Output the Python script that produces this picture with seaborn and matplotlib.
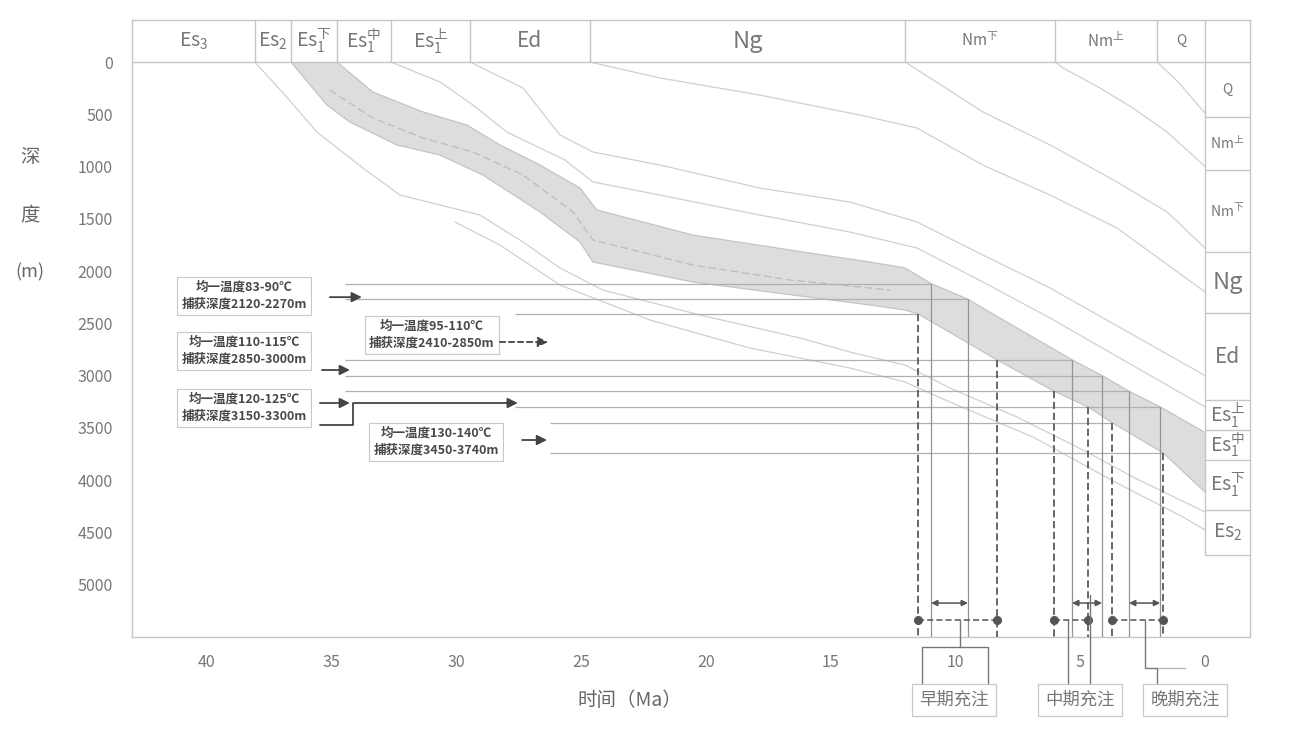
import numpy as np
import pandas as pd
import matplotlib
matplotlib.use('Agg')
import matplotlib.pyplot as plt
import seaborn as sns

# ---- stratigraphy (ages in Ma, depths in m) ----
strata_names = [r'Es$_3$', r'Es$_2$', r'Es$_1^{\mathrm{下}}$', r'Es$_1^{\mathrm{中}}$',
                r'Es$_1^{\mathrm{上}}$', 'Ed', 'Ng', r'Nm$^{\mathrm{下}}$', r'Nm$^{\mathrm{上}}$', 'Q']
strata_ages = [43.0, 38.08, 36.63, 34.79, 32.63, 29.46, 24.65, 12.02, 6.01, 1.92, 0.0]
strata_fs = [14, 14, 14, 14, 14, 15, 17, 11, 11, 10]

col_names = ['Q', r'Nm$^{\mathrm{上}}$', r'Nm$^{\mathrm{下}}$', 'Ng', 'Ed',
             r'Es$_1^{\mathrm{上}}$', r'Es$_1^{\mathrm{中}}$', r'Es$_1^{\mathrm{下}}$', r'Es$_2$']
col_depths = [0, 526, 1033, 1818, 2402, 3234, 3522, 3809, 4287, 4718]
col_fs = [10, 10, 10, 17, 15, 14, 14, 14, 14]

# ---- burial curves of formation bases ----
q_age = [1.92, 1.08, 0.0]
q_depth = [0, 191, 490]
nmu_age = [6.01, 5.69, 4.21, 2.89, 1.52, 0.0]
nmu_depth = [0, 57, 249, 440, 670, 1000]
nml_age = [12.02, 8.90, 6.21, 3.53, 1.52, 0.0]
nml_depth = [0, 478, 794, 1148, 1435, 1780]
ng_age = [24.65, 21.84, 17.84, 13.83, 11.54, 8.90, 6.21, 3.53, 0.0]
ng_depth = [0, 153, 316, 507, 632, 986, 1273, 1589, 2200]
ed_age = [29.46, 27.33, 25.85, 24.53, 21.84, 17.84, 14.23, 11.54, 8.90, 6.21, 0.0]
ed_depth = [0, 249, 699, 861, 986, 1206, 1340, 1531, 1847, 2163, 3000]
es1u_age = [32.63, 30.66, 29.34, 27.98, 25.65, 24.53, 21.84, 17.84, 14.23, 11.54, 8.90, 6.21, 0.0]
es1u_depth = [0, 191, 411, 670, 938, 1148, 1273, 1464, 1627, 1780, 2105, 2450, 3300]
es2_age = [38.08, 36.87, 35.59, 33.75, 32.26, 30.66, 29.06, 27.33, 25.85, 24.13, 20.24,
           16.23, 14.23, 12.02, 10.22, 7.54, 4.89, 2.89, 0.0]
es2_depth = [0, 316, 670, 1014, 1273, 1368, 1464, 1722, 1971, 2182, 2421,
             2641, 2775, 2900, 3120, 3397, 3713, 3971, 4306]
es3_age = [30.06, 28.26, 25.85, 22.24, 18.24, 14.23, 12.02, 10.22, 6.89, 3.53, 0.88, 0.0]
es3_depth = [1531, 1751, 2134, 2469, 2737, 2928, 3062, 3254, 3589, 4029, 4354, 4478]
mid_age = [35.07, 33.35, 31.34, 29.34, 27.33, 25.33, 24.53, 20.52, 16.63, 12.63]
mid_depth = [268, 536, 727, 861, 1081, 1435, 1703, 1943, 2086, 2182]

# reservoir band (Es1 lower section): top and base
top_age = [34.79, 33.35, 31.34, 29.58, 28.26, 26.65, 25.05, 24.37, 20.52, 16.63, 13.43,
           12.02, 10.98, 9.50, 8.22, 5.33, 4.13, 3.05, 1.80, 0.0]
top_depth = [0, 287, 478, 603, 794, 986, 1206, 1416, 1656, 1799, 1914,
             1971, 2120, 2270, 2450, 2850, 3000, 3150, 3300, 3545]
base_age = [36.63, 35.19, 34.27, 32.38, 30.66, 28.94, 26.65, 25.05, 24.53, 20.52, 16.51,
            13.43, 12.02, 11.50, 8.34, 6.05, 4.69, 3.73, 1.68, 0.0]
base_depth = [0, 411, 574, 794, 890, 1081, 1435, 1722, 1914, 2105, 2230,
              2325, 2373, 2410, 2850, 3150, 3300, 3450, 3740, 4115]

# ---- fluid inclusion trapping depths ----
trap_depths = [2120, 2270, 2410, 2850, 3000, 3150, 3300, 3450, 3740]
trap_start = [34.47, 34.47, 27.66, 34.47, 34.47, 34.47, 27.66, 26.25, 26.25]
top_cut = [2120, 2270, 2850, 3000, 3150, 3300]      # solid drop lines
base_cut = [2410, 2850, 3150, 3300, 3450, 3740]     # dashed drop lines
box_texts = ['均一温度83-90℃\n捕获深度2120-2270m',
             '均一温度95-110℃\n捕获深度2410-2850m',
             '均一温度110-115℃\n捕获深度2850-3000m',
             '均一温度120-125℃\n捕获深度3150-3300m',
             '均一温度130-140℃\n捕获深度3450-3740m']
charge_names = ['早期充注', '中期充注', '晚期充注']

sns.set_theme(style='white')
plt.rcParams['font.family'] = ['Noto Sans CJK SC', 'DejaVu Sans']
plt.rcParams['mathtext.fontset'] = 'custom'
plt.rcParams['mathtext.rm'] = 'Noto Sans CJK SC'
plt.rcParams['mathtext.it'] = 'Noto Sans CJK SC'
plt.rcParams['mathtext.bf'] = 'Noto Sans CJK SC:bold'

fig = plt.figure(figsize=(13.02, 7.44), dpi=100)
ax = fig.add_axes([132 / 1302, 107 / 744, 1118 / 1302, 617 / 744])
XL, XR, YB, YT = 43.0, -1.8, 5502, -402

grey_txt = '#777777'
line_c = '#d0d0d0'

# band
poly_x = top_age + base_age[::-1]
poly_y = top_depth + base_depth[::-1]
ax.fill(poly_x, poly_y, color='#dddddd', lw=0, zorder=1)
ax.plot(top_age, top_depth, color='#c4c4c4', lw=0.9, zorder=2)
ax.plot(base_age, base_depth, color='#c4c4c4', lw=0.9, zorder=2)
ax.plot(mid_age, mid_depth, color='#bcbcbc', lw=0.9, ls=(0, (6, 3)), zorder=2)

# burial curves
curves = {'Q': (q_age, q_depth), 'Nm_u': (nmu_age, nmu_depth), 'Nm_l': (nml_age, nml_depth),
          'Ng': (ng_age, ng_depth), 'Ed': (ed_age, ed_depth), 'Es1_u': (es1u_age, es1u_depth),
          'Es2': (es2_age, es2_depth), 'Es3': (es3_age, es3_depth)}
rows = []
for k, (a, d) in curves.items():
    for ai, di in zip(a, d):
        rows.append((k, ai, di))
df = pd.DataFrame(rows, columns=['horizon', 'age', 'depth'])
sns.lineplot(data=df, x='age', y='depth', units='horizon', estimator=None, sort=False,
             color=line_c, lw=0.9, ax=ax, zorder=2)

# crossings of trapping depths with band top/base
top_x = {d: np.interp(d, top_depth, top_age) for d in top_cut}
base_x = {d: np.interp(d, base_depth, base_age) for d in base_cut}

for d, s in zip(trap_depths, trap_start):
    end = min([top_x.get(d, 99), base_x.get(d, 99)])
    ax.hlines(d, s, end, color='#b0b0b0', lw=0.9, zorder=3)
for d in top_cut:
    ax.vlines(top_x[d], d, YB, color='#939393', lw=0.9, zorder=3)
for d in base_cut:
    ax.vlines(base_x[d], d, YB, color='#5a5a5a', lw=1.3, linestyles=(0, (4, 2)), zorder=3)

# charge windows at the bottom
for i in range(3):
    a1, a2 = top_x[top_cut[2 * i]], top_x[top_cut[2 * i + 1]]
    ax.annotate('', xy=(a2, 5177), xytext=(a1, 5177),
                arrowprops=dict(arrowstyle='<|-|>', color='#555555', lw=1.1,
                                mutation_scale=9, shrinkA=0, shrinkB=0), zorder=4)
    b1, b2 = base_x[base_cut[2 * i]], base_x[base_cut[2 * i + 1]]
    ax.plot([b1, b2], [5340, 5340], color='#555555', lw=1.1, ls=(0, (4, 2)),
            marker='o', ms=5.5, zorder=4)

# text boxes and arrows
box_pos = [(38.5, 2239), (30.98, 2612), (38.5, 2766), (38.5, 3311), (30.82, 3636)]
for (bx, by), t in zip(box_pos, box_texts):
    ax.text(bx, by, t, ha='center', va='center', fontsize=9, color='#484848',
            fontweight='bold', linespacing=1.4, zorder=6,
            bbox=dict(boxstyle='square,pad=0.35', fc='white', ec='#c8c8c8', lw=0.8))

arrow_kw = dict(arrowstyle='-|>', color='#444444', lw=1.3, mutation_scale=15,
                shrinkA=0, shrinkB=0)
ax.annotate('', xy=(33.79, 2250), xytext=(35.07, 2250), arrowprops=arrow_kw, zorder=6)
ax.annotate('', xy=(26.33, 2679), xytext=(28.26, 2679),
            arrowprops=dict(arrow_kw, ls=(0, (3, 2))), zorder=6)
ax.annotate('', xy=(34.27, 2947), xytext=(35.39, 2947), arrowprops=arrow_kw, zorder=6)
ax.annotate('', xy=(34.27, 3263), xytext=(35.47, 3263), arrowprops=arrow_kw, zorder=6)
ax.plot([35.47, 34.15, 34.15, 27.9], [3474, 3474, 3263, 3263], color='#444444', lw=1.3, zorder=6)
ax.annotate('', xy=(27.54, 3263), xytext=(28.0, 3263), arrowprops=arrow_kw, zorder=6)
ax.annotate('', xy=(26.37, 3617), xytext=(27.37, 3617), arrowprops=arrow_kw, zorder=6)

# connectors to charge labels (below the frame)
conn_kw = dict(color='#777777', lw=1, clip_on=False, zorder=5)
ax.plot([9.82, 9.82, 8.70, 8.70], [5340, 5598, 5598, 5943], **conn_kw)
ax.plot([11.34, 11.34, 9.82], [5943, 5598, 5598], **conn_kw)
ax.plot([5.49, 5.49], [5340, 5943], **conn_kw)
ax.plot([4.62, 4.62], [5100, 5943], **conn_kw)
ax.plot([2.40, 2.40, 1.92, 1.92], [5340, 5799, 5799, 5943], **conn_kw)
ax.plot([1.92, 0.80], [5799, 5799], color='#bbbbbb', lw=1, clip_on=False)
for cx, name in zip([10.06, 5.01, 0.80], charge_names):
    ax.text(cx, 6105, name, ha='center', va='center', fontsize=12.5, color=grey_txt,
            clip_on=False, bbox=dict(boxstyle='square,pad=0.4', fc='white', ec='#c8c8c8', lw=0.9))

# header row
ax.hlines(0, XL, XR, color='#c6c6c6', lw=1, zorder=5)
for a in strata_ages[1:]:
    ax.vlines(a, YT, 0, color='#c6c6c6', lw=1, zorder=5)
for i, name in enumerate(strata_names):
    xm = (strata_ages[i] + strata_ages[i + 1]) / 2
    ax.text(xm, -201, name, ha='center', va='center', fontsize=strata_fs[i], color=grey_txt)

# right column (present-day strata)
ax.vlines(0, 0, col_depths[-1], color='#c6c6c6', lw=1, zorder=5)
ax.hlines(col_depths[1:], 0, XR, color='#c6c6c6', lw=1, zorder=5)
for i, name in enumerate(col_names):
    ym = (col_depths[i] + col_depths[i + 1]) / 2
    ax.text(-0.9, ym, name, ha='center', va='center', fontsize=col_fs[i], color=grey_txt)

ax.set_xlim(XL, XR)
ax.set_ylim(YB, YT)
ax.set_xticks([40, 35, 30, 25, 20, 15, 10, 5, 0])
ax.set_yticks(range(0, 5001, 500))
ax.set_xlabel('')
ax.set_ylabel('')
ax.tick_params(axis='x', length=0, labelsize=11.5, labelcolor=grey_txt, pad=12)
ax.tick_params(axis='y', length=0, labelsize=11.5, labelcolor=grey_txt, pad=14)
for sp in ax.spines.values():
    sp.set_color('#c6c6c6')
    sp.set_linewidth(1)

fig.text(30 / 1302, 1 - 158 / 744, '深', fontsize=14, color='#666666', ha='center', va='center')
fig.text(30 / 1302, 1 - 215 / 744, '度', fontsize=14, color='#666666', ha='center', va='center')
fig.text(30 / 1302, 1 - 272 / 744, '(m)', fontsize=13, color='#666666', ha='center', va='center')
fig.text(630 / 1302, 1 - 700 / 744, '时间（Ma）', fontsize=14, color='#666666', ha='center', va='center')

fig.savefig('out.png', dpi=100)
